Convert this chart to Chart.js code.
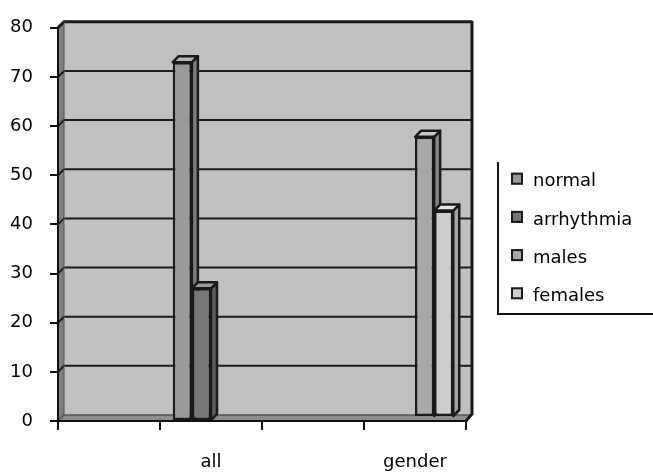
<!DOCTYPE html>
<html>
<head>
<meta charset="utf-8">
<script src="https://cdn.jsdelivr.net/npm/chart.js@4/dist/chart.umd.min.js"></script>
<style>
  html, body { margin: 0; padding: 0; background: #fff; }
  #wrap { width: 653px; height: 473px; }
</style>
</head>
<body>
<div id="wrap"><canvas id="c" width="653" height="473"></canvas></div>
<script>
// Category slots along the x axis (blank slots keep the wide spacing)
const categories = ['', 'all', '', 'gender'];

// Series values per category
const normal     = [null, 73, null, null];
const arrhythmia = [null, 27, null, null];
const males      = [null, null, null, 57];
const females    = [null, null, null, 42];

// Value axis
const yMin = 0;
const yMax = 80;
const yStep = 10;

const FONT = { family: 'DejaVu Sans', size: 18 };
const TEXT = '#000000';
const WALL_DEPTH = 6;   // px depth of back wall / floor
const BAR_DEPTH = 6;    // px depth of each column

function poly(ctx, pts, fill, stroke, lw) {
  ctx.beginPath();
  ctx.moveTo(pts[0][0], pts[0][1]);
  for (let i = 1; i < pts.length; i++) ctx.lineTo(pts[i][0], pts[i][1]);
  ctx.closePath();
  if (fill) { ctx.fillStyle = fill; ctx.fill(); }
  if (stroke) { ctx.strokeStyle = stroke; ctx.lineWidth = lw || 2; ctx.stroke(); }
}

// Back wall, side wall, floor and gridlines drawn in a shallow 3D box
const wallPlugin = {
  id: 'walls',
  beforeDraw(chart) {
    const { ctx, chartArea: a, scales: { y } } = chart;
    const D = WALL_DEPTH;
    ctx.save();
    ctx.fillStyle = '#ffffff';
    ctx.fillRect(0, 0, chart.width, chart.height);

    // back wall
    ctx.fillStyle = '#c0c0c0';
    ctx.fillRect(a.left + D, a.top - D, a.right - a.left, a.bottom - a.top);
    // left wall
    poly(ctx, [[a.left, a.top], [a.left + D, a.top - D], [a.left + D, a.bottom - D], [a.left, a.bottom]], '#7e7e7e');
    // floor
    poly(ctx, [[a.left, a.bottom], [a.left + D, a.bottom - D], [a.right + D, a.bottom - D], [a.right, a.bottom]], '#8e8e8e');

    ctx.lineJoin = 'miter';
    // gridlines on the walls
    for (let v = yMin; v <= yMax; v += yStep) {
      const py = y.getPixelForValue(v);
      ctx.beginPath();
      ctx.moveTo(a.left, py);
      ctx.lineTo(a.left + D, py - D);
      ctx.lineTo(a.right + D, py - D);
      ctx.strokeStyle = v === yMin ? '#555' : '#1a1a1a';
      ctx.lineWidth = v === yMin ? 1.5 : (v === yMax ? 3 : 2);
      ctx.stroke();
    }
    // back wall inner left edge
    ctx.beginPath();
    ctx.moveTo(a.left + D, a.top - D);
    ctx.lineTo(a.left + D, a.bottom - D);
    ctx.strokeStyle = '#555';
    ctx.lineWidth = 1;
    ctx.stroke();
    // right edge of back wall down to the floor corner
    ctx.beginPath();
    ctx.moveTo(a.right + D, a.top - D - 1);
    ctx.lineTo(a.right + D, a.bottom - D - 1);
    ctx.lineTo(a.right, a.bottom);
    ctx.strokeStyle = '#1a1a1a';
    ctx.lineWidth = 3;
    ctx.stroke();
    ctx.restore();
  }
};

// Side and top faces of every column go down first, front faces on top
const barFaces = {
  id: 'barFaces',
  beforeDatasetsDraw(chart) {
    const ctx = chart.ctx;
    const d = BAR_DEPTH;
    chart.data.datasets.forEach((ds, di) => {
      const meta = chart.getDatasetMeta(di);
      ctx.save();
      ctx.translate(0, -(ds.lift || 0));
      ctx.lineJoin = 'round';
      meta.data.forEach((bar, i) => {
        if (ds.data[i] == null) return;
        const { x, y, base, width } = bar.getProps(['x', 'y', 'base', 'width'], true);
        const l = x - width / 2, r = x + width / 2;
        poly(ctx, [[r, y], [r + d, y - d], [r + d, base - d], [r, base]], ds.sideColor, '#1a1a1a', 2.5);
        poly(ctx, [[l, y], [l + d, y - d], [r + d, y - d], [r, y]], ds.topColor, '#1a1a1a', 2.5);
      });
      ctx.restore();
    });
  },
  beforeDatasetDraw(chart, args) {
    const ds = chart.data.datasets[args.index];
    chart.ctx.save();
    chart.ctx.translate(0, -(ds.lift || 0));
  },
  afterDatasetDraw(chart) {
    chart.ctx.restore();
  }
};

// Legend box on the right
const legendPlugin = {
  id: 'sideLegend',
  afterDraw(chart) {
    const ctx = chart.ctx;
    ctx.save();
    ctx.strokeStyle = '#111';
    ctx.lineWidth = 2;
    ctx.beginPath();
    ctx.moveTo(498, 162);
    ctx.lineTo(498, 314);
    ctx.lineTo(653, 314);
    ctx.stroke();
    ctx.font = `${FONT.size}px "${FONT.family}"`;
    ctx.textBaseline = 'middle';
    ctx.textAlign = 'left';
    chart.data.datasets.forEach((ds, i) => {
      const cy = 178.7 + i * 38.2;
      ctx.fillStyle = ds.backgroundColor;
      ctx.fillRect(511, cy - 6, 12, 12);
      ctx.strokeStyle = '#1a1a1a';
      ctx.lineWidth = 2;
      ctx.strokeRect(512, cy - 5, 10, 10);
      ctx.fillStyle = TEXT;
      ctx.fillText(ds.label, 533, cy + 3);
    });
    ctx.restore();
  }
};

const barStyle = { borderColor: '#1a1a1a', borderWidth: 2.5, borderSkipped: false,
                   categoryPercentage: 0.75, barPercentage: 1.0 };

new Chart(document.getElementById('c'), {
  type: 'bar',
  data: {
    labels: categories,
    datasets: [
      { label: 'normal', data: normal, backgroundColor: '#9a9a9a', sideColor: '#7c7c7c', topColor: '#b6b6b6', ...barStyle },
      { label: 'arrhythmia', data: arrhythmia, backgroundColor: '#777777', sideColor: '#5c5c5c', topColor: '#9a9a9a', ...barStyle },
      { label: 'males', data: males, backgroundColor: '#a8a8a8', sideColor: '#868686', topColor: '#c8c8c8', lift: 4, ...barStyle },
      { label: 'females', data: females, backgroundColor: '#cdcdcd', sideColor: '#a4a4a4', topColor: '#e4e4e4', lift: 4, ...barStyle }
    ]
  },
  options: {
    responsive: false,
    animation: false,
    devicePixelRatio: 1,
    layout: { padding: { left: 0, top: 22, right: 187, bottom: 0 } },
    plugins: { legend: { display: false }, tooltip: { enabled: false } },
    scales: {
      x: {
        type: 'category',
        offset: true,
        grid: { offset: true, drawOnChartArea: false, drawTicks: true, tickLength: 9, color: '#111', lineWidth: 2 },
        border: { display: true, color: '#111', width: 2 },
        ticks: { font: FONT, color: TEXT, padding: 22, maxRotation: 0, autoSkip: false },
        afterFit(scale) { scale.height = 52; }
      },
      y: {
        min: yMin, max: yMax,
        grid: { drawOnChartArea: false, drawTicks: true, tickLength: 8, color: '#111', lineWidth: 2 },
        border: { display: true, color: '#111', width: 2 },
        ticks: { stepSize: yStep, font: FONT, color: TEXT, padding: 17 },
        afterFit(scale) { scale.width = 58; }
      }
    }
  },
  plugins: [wallPlugin, barFaces, legendPlugin]
});
</script>
</body>
</html>
